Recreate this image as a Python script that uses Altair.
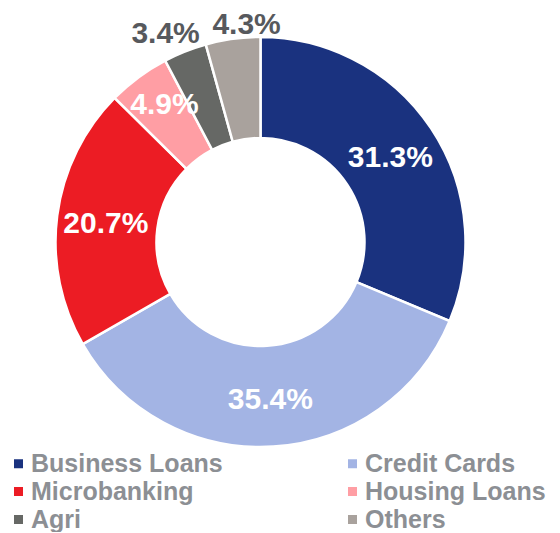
import altair as alt
import pandas as pd

categories = ["Business Loans", "Credit Cards", "Microbanking", "Housing Loans", "Agri", "Others"]
shares = [31.3, 35.4, 20.7, 4.9, 3.4, 4.3]
colors = ["#1a327f", "#a3b4e4", "#ec1c24", "#ff9ea4", "#666865", "#a9a29d"]

df = pd.DataFrame({"category": categories, "share": shares, "idx": list(range(len(categories)))})

FONT = "Liberation Sans, Arial, Helvetica, sans-serif"

base = alt.Chart(df).encode(
    theta=alt.Theta("share:Q", stack=True),
    order=alt.Order("idx:Q", sort="ascending"),
)

arcs = base.mark_arc(radius=205, innerRadius=104, stroke="white", strokeWidth=2.5).encode(
    color=alt.Color(
        "category:N",
        scale=alt.Scale(domain=categories, range=colors),
        sort=categories,
        legend=alt.Legend(
            title=None,
            orient="none",
            legendX=-2,
            legendY=443,
            direction="horizontal",
            columns=2,
            columnPadding=117,
            rowPadding=2,
            padding=0,
            symbolType="square",
            symbolSize=81,
            symbolStrokeWidth=0,
            labelFont=FONT,
            labelFontWeight="bold",
            labelFontSize=25,
            labelColor="#8c8f94",
            labelOffset=0,
            labelLimit=400,
        ),
    )
)


def label_layer(names, radius, color, dx=0, dy=0):
    cond = " || ".join([f"datum.category == '{n}'" for n in names])
    return base.transform_calculate(
        lbl=f"({cond}) ? format(datum.share, '.1f') + '%' : ''"
    ).mark_text(
        radius=radius,
        font=FONT,
        fontWeight="bold",
        fontSize=30,
        color=color,
        dx=dx,
        dy=dy,
    ).encode(text="lbl:N")


inner = label_layer(["Business Loans", "Credit Cards", "Microbanking"], 156, "white", dy=2)
housing = label_layer(["Housing Loans"], 168, "white", dx=4, dy=-2)
agri = label_layer(["Agri"], 228, "#57595d", dx=-11, dy=4)
others = label_layer(["Others"], 222, "#57595d", dx=16, dy=3)

chart = alt.layer(arcs, inner, housing, agri, others).properties(
    width=505,
    height=468,
    padding={"left": 0, "top": 0, "right": 38, "bottom": 56},
    autosize=alt.AutoSizeParams(type="none"),
).configure_view(stroke=None)

chart.save("out.html", embed_options={"renderer": "svg", "actions": False})
